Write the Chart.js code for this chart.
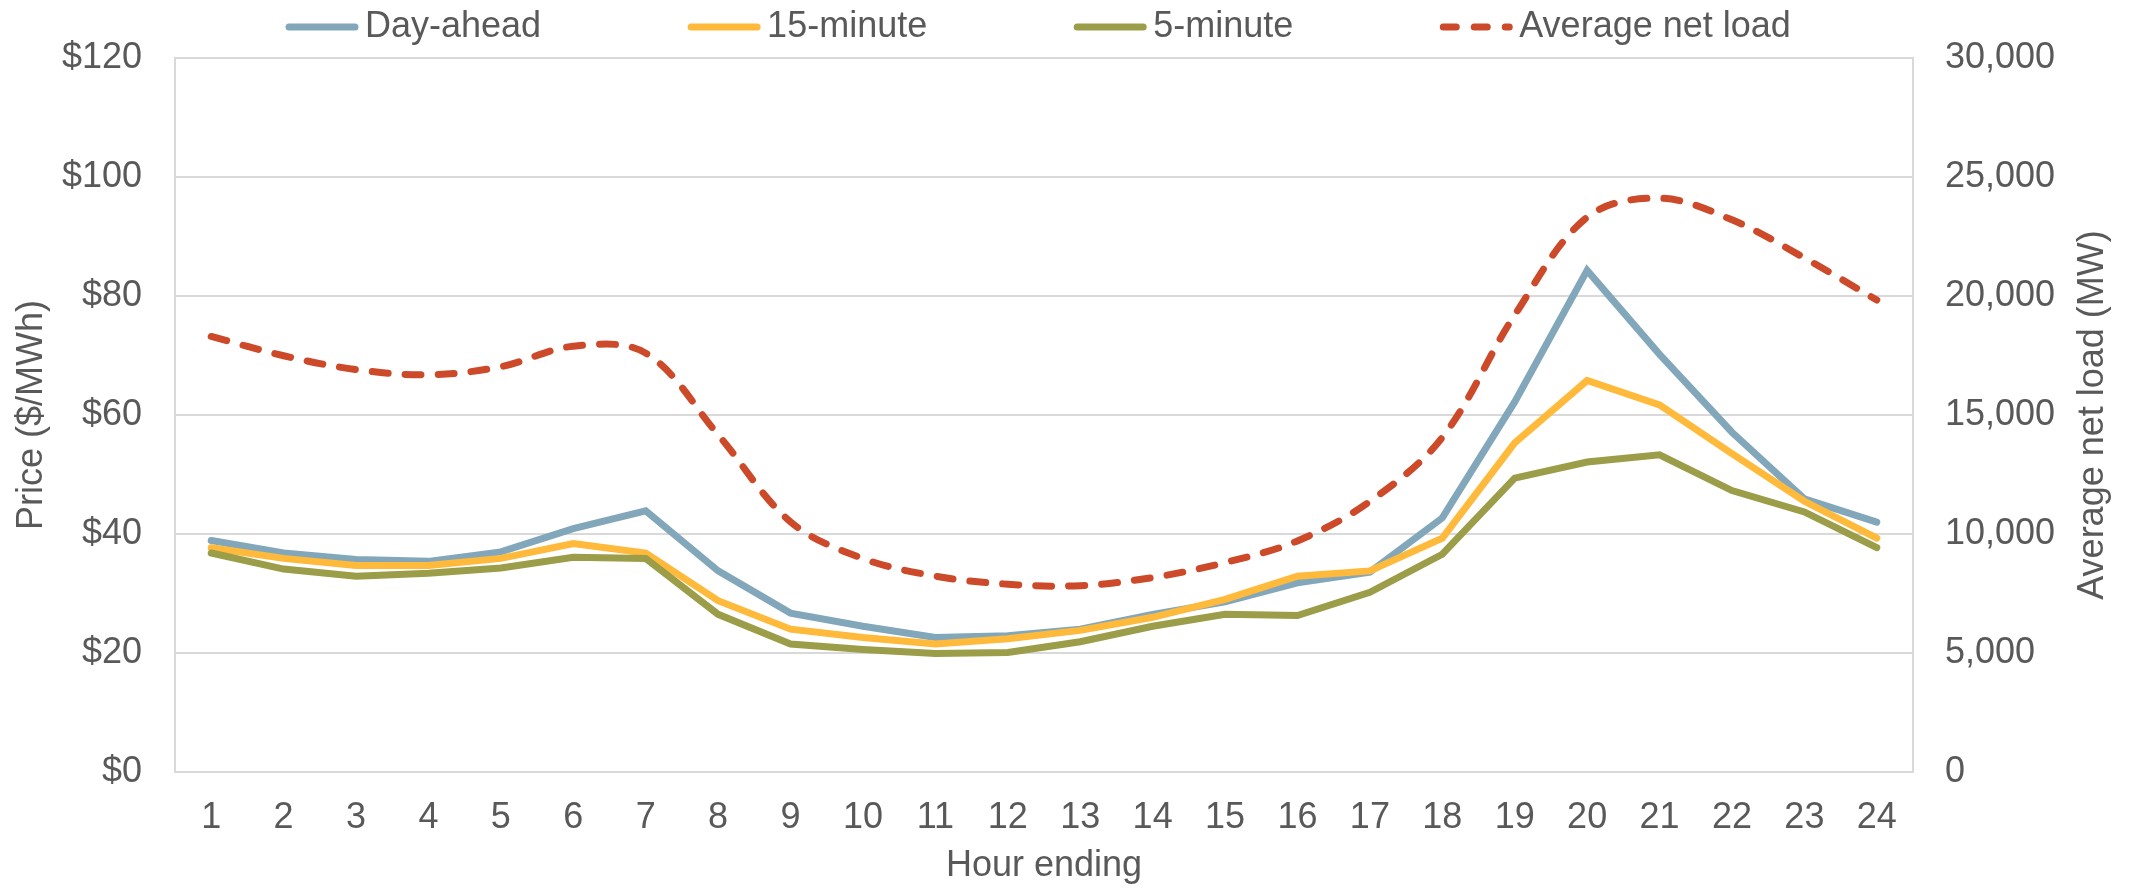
<!DOCTYPE html>
<html>
<head>
<meta charset="utf-8">
<script src="https://cdn.jsdelivr.net/npm/chart.js@4.4.1/dist/chart.umd.min.js"></script>
<style>
  html, body { margin: 0; padding: 0; background: #fff; }
  #wrap { width: 2131px; height: 889px; }
</style>
</head>
<body>
<div id="wrap"><canvas id="priceChart"></canvas></div>
<script>
// data
const hours = ['1','2','3','4','5','6','7','8','9','10','11','12','13','14','15','16','17','18','19','20','21','22','23','24'];
const dayAhead = [38.9, 36.8, 35.7, 35.4, 37.0, 40.9, 43.9, 33.8, 26.7, 24.5, 22.6, 22.9, 24.0, 26.5, 28.6, 31.8, 33.6, 42.7, 62.2, 84.3, 70.2, 57.1, 45.9, 42.0];
const fifteenMin = [37.7, 35.9, 34.7, 34.7, 35.9, 38.4, 36.8, 28.8, 24.0, 22.6, 21.5, 22.4, 23.8, 26.0, 29.0, 32.9, 33.8, 39.3, 55.3, 65.8, 61.7, 53.5, 45.5, 39.3];
const fiveMin = [36.8, 34.1, 32.9, 33.4, 34.3, 36.1, 35.9, 26.5, 21.5, 20.6, 19.9, 20.1, 21.9, 24.5, 26.5, 26.3, 30.2, 36.6, 49.4, 52.1, 53.3, 47.3, 43.7, 37.7];
const netLoad = [18300, 17490, 16910, 16690, 17030, 17890, 17600, 14170, 10510, 8970, 8230, 7890, 7830, 8170, 8800, 9710, 11370, 14060, 19200, 23310, 24110, 23200, 21600, 19830];
const priceTicks = [0, 20, 40, 60, 80, 100, 120];
const loadTicks = [0, 5000, 10000, 15000, 20000, 25000, 30000];

const xTitle = 'Hour ending';
const leftTitle = 'Price ($/MWh)';
const rightTitle = 'Average net load (MW)';

const textColor = '#595959';
const gridColor = '#D9D9D9';
const fontFamily = '"Liberation Sans", Arial, sans-serif';
const fontSize = 36;

// legend is drawn by hand: Excel-like spacing, line samples with round caps
const legendPlugin = {
  id: 'rowLegend',
  afterDraw(chart) {
    const ctx = chart.ctx;
    const y = 27, sample = 74, gapText = 6, gapItem = 146;
    let x = 285;
    ctx.save();
    ctx.font = fontSize + 'px ' + fontFamily;
    ctx.textBaseline = 'middle';
    ctx.textAlign = 'left';
    chart.data.datasets.forEach(ds => {
      ctx.strokeStyle = ds.borderColor;
      ctx.lineWidth = ds.borderWidth;
      ctx.lineCap = 'round';
      ctx.setLineDash(ds.borderDash ? [13, 18] : []);
      ctx.beginPath();
      ctx.moveTo(x + 4, y);
      ctx.lineTo(x + sample - 4, y);
      ctx.stroke();
      ctx.setLineDash([]);
      ctx.fillStyle = textColor;
      ctx.fillText(ds.label, x + sample + gapText, y);
      x += sample + gapText + ctx.measureText(ds.label).width + gapItem;
    });
    ctx.restore();
  }
};

// right axis title reads bottom-to-top in the original
const rightTitlePlugin = {
  id: 'rightTitle',
  afterDraw(chart) {
    const ctx = chart.ctx, a = chart.chartArea;
    ctx.save();
    ctx.translate(chart.scales.y2.right - 38, (a.top + a.bottom) / 2);
    ctx.rotate(-Math.PI / 2);
    ctx.font = fontSize + 'px ' + fontFamily;
    ctx.fillStyle = textColor;
    ctx.textAlign = 'center';
    ctx.textBaseline = 'middle';
    ctx.fillText(rightTitle, 0, 0);
    ctx.restore();
  }
};

Chart.defaults.font.family = fontFamily;
Chart.defaults.font.size = fontSize;
Chart.defaults.color = textColor;

new Chart(document.getElementById('priceChart'), {
  type: 'line',
  data: {
    labels: hours,
    datasets: [
      { label: 'Day-ahead', data: dayAhead, yAxisID: 'y', borderColor: '#82A7BA', backgroundColor: '#82A7BA', borderWidth: 7, pointRadius: 0, tension: 0, borderCapStyle: 'round', order: 4 },
      { label: '15-minute', data: fifteenMin, yAxisID: 'y', borderColor: '#FFB93B', backgroundColor: '#FFB93B', borderWidth: 7, pointRadius: 0, tension: 0, borderCapStyle: 'round', order: 3 },
      { label: '5-minute', data: fiveMin, yAxisID: 'y', borderColor: '#9B9D48', backgroundColor: '#9B9D48', borderWidth: 7, pointRadius: 0, tension: 0, borderCapStyle: 'round', order: 2 },
      { label: 'Average net load', data: netLoad, yAxisID: 'y2', borderColor: '#CC4A2A', backgroundColor: '#CC4A2A', borderWidth: 7, pointRadius: 0, tension: 0.35, borderDash: [16, 17], borderCapStyle: 'round', order: 1 }
    ]
  },
  options: {
    responsive: true,
    maintainAspectRatio: false,
    animation: false,
    layout: { padding: { top: 58, left: 0, right: 0, bottom: 0 } },
    plugins: {
      legend: { display: false },
      tooltip: { enabled: false }
    },
    scales: {
      x: {
        offset: true,
        grid: { display: false, drawTicks: false },
        border: { display: true, color: gridColor, width: 2 },
        ticks: { padding: 24, maxRotation: 0, autoSkip: false },
        title: { display: true, text: xTitle, padding: { top: 4, bottom: 1 } },
        afterFit: s => { s.height = 117; }
      },
      y: {
        position: 'left',
        min: 0, max: 120,
        afterBuildTicks: s => { s.ticks = priceTicks.map(v => ({ value: v })); },
        grid: { color: gridColor, lineWidth: 2, drawTicks: false },
        border: { display: true, color: gridColor, width: 2 },
        ticks: { padding: 33, callback: v => '$' + v },
        title: { display: true, text: leftTitle, padding: { top: 10, bottom: 0 } },
        afterFit: s => { s.width = 175; }
      },
      y2: {
        position: 'right',
        min: 0, max: 30000,
        afterBuildTicks: s => { s.ticks = loadTicks.map(v => ({ value: v })); },
        grid: { drawOnChartArea: false, drawTicks: false },
        border: { display: true, color: gridColor, width: 2 },
        ticks: { padding: 32, callback: v => v.toLocaleString('en-US') },
        afterFit: s => { s.width = 218; }
      }
    }
  },
  plugins: [legendPlugin, rightTitlePlugin]
});
</script>
</body>
</html>
